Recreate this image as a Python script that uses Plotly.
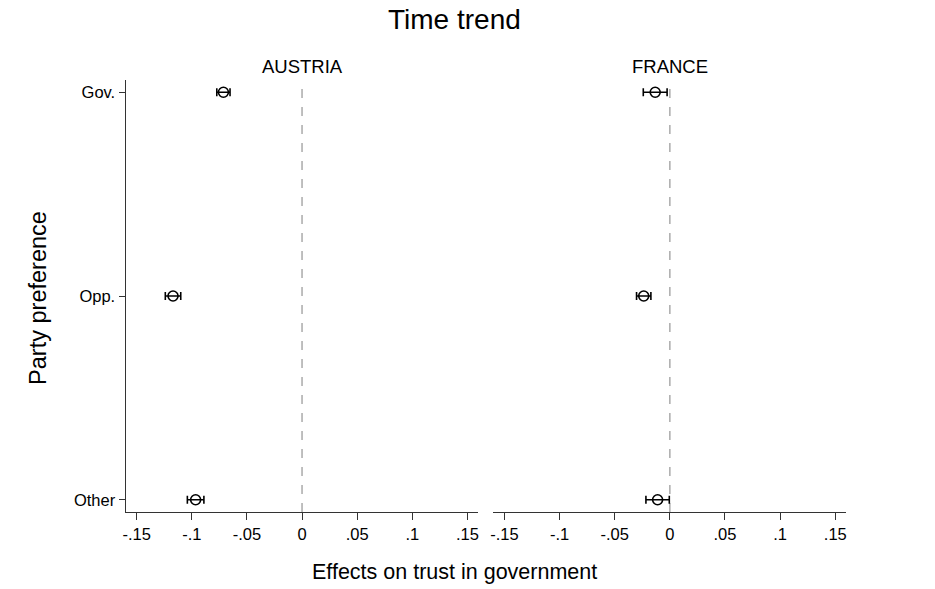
import plotly.graph_objects as go

categories = ["Gov.", "Opp.", "Other"]
cat_pos = [1, 2, 3]
austria_est = [-0.0713, -0.1170, -0.0965]
austria_err = [0.0060, 0.0070, 0.0075]
france_est = [-0.0133, -0.0237, -0.0111]
france_err = [0.0108, 0.0065, 0.0106]
x_tickvals = [-0.15, -0.1, -0.05, 0, 0.05, 0.1, 0.15]
x_ticktext = ["-.15", "-.1", "-.05", "0", ".05", ".1", ".15"]
panels = ["AUSTRIA", "FRANCE"]

W, H = 935, 589
def px_x(p):
    return p / W
def px_y(p):
    return 1 - p / H

FONT = "Liberation Sans, Arial, Helvetica, sans-serif"

fig = go.Figure()

for i, (est, err) in enumerate([(austria_est, austria_err), (france_est, france_err)]):
    xa = "x" if i == 0 else "x2"
    fig.add_trace(go.Scatter(
        x=est, y=cat_pos, xaxis=xa, yaxis="y" if i == 0 else "y2",
        mode="markers",
        marker=dict(symbol="circle-open", size=10, color="black", line=dict(width=1.6, color="black")),
        error_x=dict(type="data", array=err, visible=True, color="black", thickness=1.6, width=4),
        showlegend=False, hoverinfo="x+y",
    ))

xdom1 = [px_x(123), px_x(477)]
xdom2 = [px_x(492), px_x(846)]
ydom = [px_y(512), px_y(80)]

xcommon = dict(range=[-0.16, 0.16], tickvals=x_tickvals, ticktext=x_ticktext,
               showgrid=False, zeroline=False, showline=True, linecolor="#333333", linewidth=1.2,
               ticks="outside", ticklen=7, tickwidth=1.2, tickcolor="#333333",
               tickfont=dict(family=FONT, size=16.5, color="black"), fixedrange=True)

fig.update_layout(
    width=W, height=H,
    margin=dict(l=0, r=0, t=0, b=0),
    plot_bgcolor="white", paper_bgcolor="white",
    font=dict(family=FONT, color="black"),
    xaxis=dict(domain=xdom1, anchor="y", **xcommon),
    xaxis2=dict(domain=xdom2, anchor="y2", **xcommon),
    yaxis=dict(domain=ydom, anchor="x", range=[3.06, 0.94], tickvals=cat_pos, ticktext=categories,
               showgrid=False, zeroline=False, showline=True, linecolor="#333333", linewidth=1.2,
               ticks="outside", ticklen=6, tickwidth=1.2, tickcolor="#333333",
               tickfont=dict(family=FONT, size=16.5, color="black"), fixedrange=True),
    yaxis2=dict(domain=ydom, anchor="x2", range=[3.06, 0.94], showticklabels=False,
                showgrid=False, zeroline=False, showline=False, ticks="", fixedrange=True),
)

for xa in ["x", "x2"]:
    fig.add_shape(type="line", xref=xa, yref="paper", x0=0, x1=0, y0=ydom[0], y1=ydom[1],
                  line=dict(color="#aaaaaa", width=1.5, dash="dash"), layer="below")

fig.add_annotation(text="Time trend", xref="paper", yref="paper", x=px_x(453), y=px_y(20),
                   showarrow=False, font=dict(family=FONT, size=28, color="black"),
                   xanchor="center", yanchor="middle")
fig.add_annotation(text=panels[0], xref="paper", yref="paper", x=px_x(300), y=px_y(67),
                   showarrow=False, font=dict(family=FONT, size=18.5, color="black"),
                   xanchor="center", yanchor="middle")
fig.add_annotation(text=panels[1], xref="paper", yref="paper", x=px_x(669), y=px_y(67),
                   showarrow=False, font=dict(family=FONT, size=18.5, color="black"),
                   xanchor="center", yanchor="middle")
fig.add_annotation(text="Party preference", xref="paper", yref="paper", x=px_x(35), y=px_y(298),
                   showarrow=False, textangle=-90, font=dict(family=FONT, size=23.5, color="black"),
                   xanchor="center", yanchor="middle")
fig.add_annotation(text="Effects on trust in government", xref="paper", yref="paper", x=px_x(453), y=px_y(572),
                   showarrow=False, font=dict(family=FONT, size=21.5, color="black"),
                   xanchor="center", yanchor="middle")

fig.write_html("out.html", config={"displayModeBar": False},
               post_script="document.body.style.margin='0';")
